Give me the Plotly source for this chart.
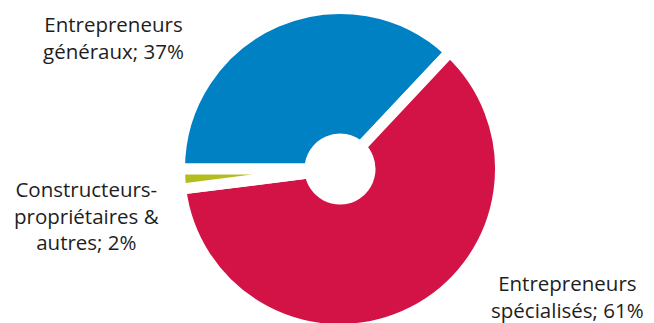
import plotly.graph_objects as go

labels = ["Entrepreneurs généraux", "Entrepreneurs spécialisés", "Constructeurs-propriétaires & autres"]
values = [37, 61, 2]
colors = ["#0081C4", "#D31245", "#B4BD1E"]
label_texts = ["Entrepreneurs<br>généraux; 37%", "Entrepreneurs<br>spécialisés; 61%", "Constructeurs-<br>propriétaires &<br>autres; 2%"]
label_px = [(113, 37), (567, 296), (86, 215)]

W, H = 654, 332
cx, cy, r = 340, 169, 160.5

fig = go.Figure(go.Pie(
    labels=labels, values=values, sort=False, direction="clockwise", rotation=270,
    hole=0.187, textinfo="none", hoverinfo="label+percent",
    marker=dict(colors=colors, line=dict(color="white", width=11)),
    domain=dict(x=[(cx - r) / W, (cx + r) / W], y=[(H - cy - r) / H, (H - cy + r) / H]),
    showlegend=False,
))

for txt, (x, y) in zip(label_texts, label_px):
    fig.add_annotation(text=txt, x=x / W, y=(H - y) / H, xref="paper", yref="paper",
                       showarrow=False, xanchor="center", yanchor="middle", align="center",
                       font=dict(family="Open Sans", size=20.5, color="#1e1e1e"))

fig.update_layout(width=W, height=H, margin=dict(l=0, r=0, t=0, b=0),
                  paper_bgcolor="white", plot_bgcolor="white")

fig.write_html("out.html", post_script="document.body.style.margin='0';document.body.style.overflow='hidden';document.documentElement.style.overflow='hidden';")
